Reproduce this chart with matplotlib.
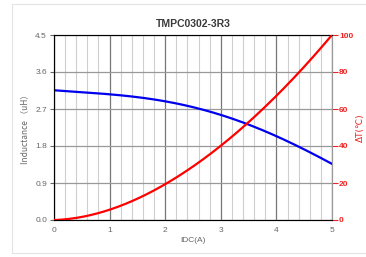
import matplotlib
matplotlib.use("Agg")
import matplotlib.pyplot as plt
from matplotlib.patches import Rectangle
import numpy as np

plt.rcParams['font.family'] = ['Liberation Sans', 'DejaVu Sans']

# data
idc = [0, 0.5, 1, 1.5, 2, 2.5, 3, 3.5, 4, 4.5, 5]
inductance = [3.15, 3.12, 3.06, 2.98, 2.88, 2.74, 2.57, 2.33, 2.03, 1.71, 1.37]
delta_t = [0, 1.6, 5.6, 11.5, 19.4, 29, 40, 53, 67, 83, 100]

x_ticks = [0, 1, 2, 3, 4, 5]
l_ticks = [0.0, 0.9, 1.8, 2.7, 3.6, 4.5]
t_ticks = [0, 20, 40, 60, 80, 100]

fig = plt.figure(figsize=(3.66, 2.57), dpi=100)
fig.patches.append(Rectangle((12 / 366, 4 / 257), 1.5, 249 / 257, transform=fig.transFigure,
                             fill=False, edgecolor='#e4e4e4', linewidth=0.8))
ax = fig.add_axes([54 / 366, 1 - 220 / 257, 278 / 366, 185 / 257])

# smooth curves through the read points
xs = np.linspace(0, 5, 200)
l_fit = np.polyval(np.polyfit(idc, inductance, 4), xs)
t_fit = np.polyval(np.polyfit(idc, delta_t, 4), xs)

ax.plot(xs, l_fit, color='#0000ee', lw=1.6, zorder=3)
ax.set_xlim(0, 5)
ax.set_ylim(0, 4.5)
ax.set_xticks(x_ticks)
ax.set_xticks(np.arange(0, 5.01, 0.2), minor=True)
ax.set_yticks(l_ticks)
ax.set_yticklabels(['%.1f' % v for v in l_ticks])
ax.grid(axis='x', which='minor', color='#cfcfcf', lw=0.8)
ax.grid(axis='x', which='major', color='#777777', lw=0.9)
ax.grid(axis='y', which='major', color='#999999', lw=0.9)
ax.tick_params(axis='x', which='both', length=0, labelsize=6, colors='#666666', pad=5)
ax.tick_params(axis='y', length=3, width=0.8, labelsize=6, colors='#666666', pad=2)
for s in ['left', 'bottom']:
    ax.spines[s].set_color('#555555')
ax.spines['top'].set_color('#777777')
ax.spines['right'].set_color('#999999')
ax.set_xlabel('IDC(A)', fontsize=6, color='#666666', labelpad=2)
ax.set_ylabel('Inductance （uH）', fontsize=6, color='#666666', labelpad=4,
              family=['Noto Sans CJK SC', 'Liberation Sans'])
ax.set_title('TMPC0302-3R3', fontsize=7.5, fontweight='bold', color='#3a3a3a', pad=6)

ax2 = ax.twinx()
ax2.plot(xs, np.clip(t_fit, 0, None), color='#ff0000', lw=1.6, zorder=3)
ax2.set_ylim(0, 100)
ax2.set_yticks(t_ticks)
ax2.tick_params(axis='y', length=4, width=0.8, color='#ee2222', labelsize=6,
                labelcolor='#ee2222', pad=1)
ax2.spines['right'].set_color('#999999')
ax2.set_ylabel('ΔT(℃)', fontsize=6.5, color='#ee2222', labelpad=2,
               family=['DejaVu Sans'])
for t in ax2.get_yticklabels():
    t.set_fontweight('bold')

fig.savefig('out.png', dpi=100)
